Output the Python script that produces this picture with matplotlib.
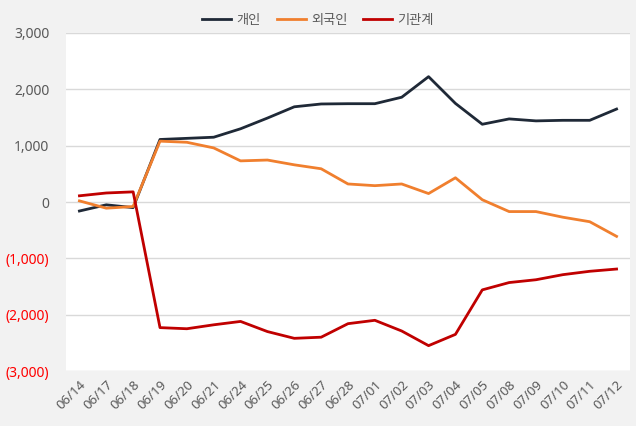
import matplotlib
matplotlib.use('Agg')
from matplotlib import pyplot as plt
from matplotlib.ticker import FuncFormatter

plt.rcParams['font.family'] = ['Noto Sans', 'Noto Sans CJK KR', 'DejaVu Sans']

dates = ['06/14', '06/17', '06/18', '06/19', '06/20', '06/21', '06/24', '06/25',
         '06/26', '06/27', '06/28', '07/01', '07/02', '07/03', '07/04', '07/05',
         '07/08', '07/09', '07/10', '07/11', '07/12']

# 개인
individual = [-160, -50, -100, 1110, 1130, 1150, 1300, 1490, 1690, 1740, 1745,
              1745, 1860, 2225, 1750, 1380, 1475, 1440, 1450, 1450, 1650]
# 외국인
foreign = [20, -110, -80, 1080, 1060, 960, 730, 745, 660, 590, 320,
           290, 320, 150, 430, 40, -170, -170, -270, -350, -610]
# 기관계
institution = [110, 160, 180, -2230, -2250, -2180, -2120, -2300, -2420, -2400, -2160,
               -2100, -2290, -2550, -2350, -1560, -1430, -1380, -1290, -1230, -1190]

fig = plt.figure(figsize=(6.36, 4.26), dpi=100, facecolor='#f2f2f2')
ax = fig.add_axes([66 / 636, 55 / 426, 564 / 636, 338 / 426])
ax.set_facecolor('white')

x = range(len(dates))
ax.plot(x, individual, color='#1f2937', lw=2, label='개인')
ax.plot(x, foreign, color='#f07f2e', lw=2, label='외국인')
ax.plot(x, institution, color='#c00000', lw=2, label='기관계')

ax.set_xlim(-0.5, len(dates) - 0.5)
ax.set_ylim(-3000, 3000)
ax.set_yticks(range(-3000, 3001, 1000))
ax.yaxis.set_major_formatter(FuncFormatter(
    lambda v, p: '({:,.0f})'.format(-v) if v < 0 else '{:,.0f}'.format(v)))
for lbl, v in zip(ax.get_yticklabels(), range(-3000, 3001, 1000)):
    lbl.set_color('#ff0000' if v < 0 else '#595959')

ax.set_xticks(list(x))
ax.set_xticklabels(dates, rotation=45, ha='right', rotation_mode='anchor',
                   color='#595959', fontsize=9.5)
ax.tick_params(axis='y', labelsize=10, length=0, pad=12)
ax.tick_params(axis='x', length=0, pad=5)

ax.grid(axis='y', color='#d9d9d9', lw=1)
ax.set_axisbelow(True)
for s in ax.spines.values():
    s.set_visible(False)

fig.legend(loc='upper center', bbox_to_anchor=(0.5, 0.995), ncol=3, frameon=False,
           fontsize=9.5, handlelength=2.2, columnspacing=1.2, handletextpad=0.4,
           labelcolor='#595959')

fig.savefig('out.png', dpi=100, facecolor=fig.get_facecolor())
